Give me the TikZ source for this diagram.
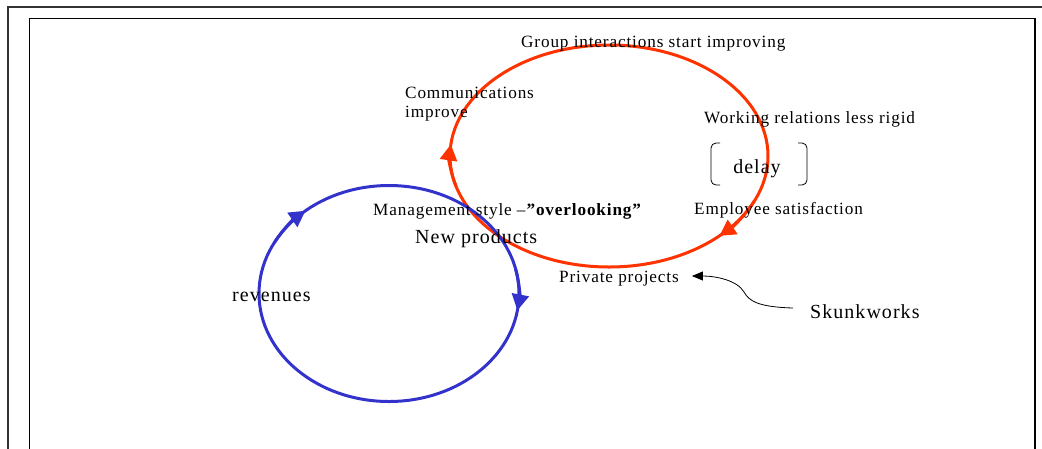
\documentclass[tikz,border=0pt]{standalone}
\usepackage{fontspec}
\setmainfont{Liberation Serif}
\newfontfamily\lblfont{Liberation Serif}[LetterSpace=5.0]
\newfontfamily\bigfont{Liberation Serif}[LetterSpace=5.2]
\usetikzlibrary{arrows.meta}
\definecolor{loopred}{HTML}{FF3300}
\definecolor{loopblue}{HTML}{3333CC}
\tikzset{
  lbl/.style={inner sep=0pt, anchor=base west, font=\lblfont\fontsize{17.2}{18.5}\selectfont, align=left},
  biglbl/.style={inner sep=0pt, anchor=base west, font=\bigfont\fontsize{20}{24}\selectfont},
  redloop/.style={draw=loopred, line width=3pt},
  blueloop/.style={draw=loopblue, line width=3pt},
  loophead/.style={-{Triangle[length=16pt,width=17pt]}},
  frameouter/.style={draw=black!80, line width=2.2pt},
  frameinner/.style={draw=black, line width=1.2pt},
  bracketline/.style={draw=black, line width=0.8pt, rounded corners=5pt},
  skarrow/.style={draw=black, line width=0.8pt, -{Triangle[length=11pt,width=9pt]}}
}
\begin{document}
\begin{tikzpicture}[x=1pt,y=-1pt]
\useasboundingbox (0,0) rectangle (1042,448);
\begin{scope}
\clip (0,0) rectangle (1042,448);
\draw[frameouter] (8.3,7.3) rectangle (1070,480);
\draw[frameinner] (29.3,18.3) rectangle (1035,480);
\end{scope}
% loops
\coordinate (rc) at (609,156);
\coordinate (bc) at (389,293.5);
\draw[redloop] (rc) ellipse [x radius=159, y radius=111];
\draw[blueloop] (bc) ellipse [x radius=130, y radius=108];
\draw[redloop, loophead] ([shift={(164:159 and 111)}]rc) arc[start angle=164, end angle=186, x radius=159, y radius=111];
\draw[redloop, loophead] ([shift={(24:159 and 111)}]rc) arc[start angle=24, end angle=46, x radius=159, y radius=111];
\draw[blueloop, loophead] ([shift={(208:130 and 108)}]bc) arc[start angle=208, end angle=230, x radius=130, y radius=108];
\draw[blueloop, loophead] ([shift={(-13:130 and 108)}]bc) arc[start angle=-13, end angle=9, x radius=130, y radius=108];
% labels
\node[lbl] (grp) at (521,47.5) {Group interactions start improving};
\node[lbl] (com) at (405,117) {Communications\\improve};
\node[lbl] (wrk) at (704,123) {Working relations less rigid};
\node[biglbl, anchor=base] (dl) at (757,173) {delay};
\node[lbl] (emp) at (694,214.5) {Employee satisfaction};
\node[lbl] (mgt) at (373,215) {Management style –\textbf{”overlooking”}};
\node[biglbl] (np) at (415,243) {New products};
\node[lbl] (pp) at (559,282) {Private projects};
\node[biglbl] (rev) at (232,301) {revenues};
\node[biglbl] (sk) at (810,318) {Skunkworks};
% delay brackets
\draw[bracketline] ([shift={(-37,-30)}]dl.base) -- ([shift={(-46,-30)}]dl.base) -- ([shift={(-46,12)}]dl.base) -- ([shift={(-37,12)}]dl.base);
\draw[bracketline] ([shift={(41,-30)}]dl.base) -- ([shift={(50,-30)}]dl.base) -- ([shift={(50,12)}]dl.base) -- ([shift={(41,12)}]dl.base);
% skunkworks connector
\draw[skarrow] ([shift={(-17,-10)}]sk.base west) .. controls (758,307) and (749,301) .. (744,292) .. controls (737,280) and (715,276) .. ([shift={(13,-6)}]pp.base east);
\end{tikzpicture}
\end{document}
